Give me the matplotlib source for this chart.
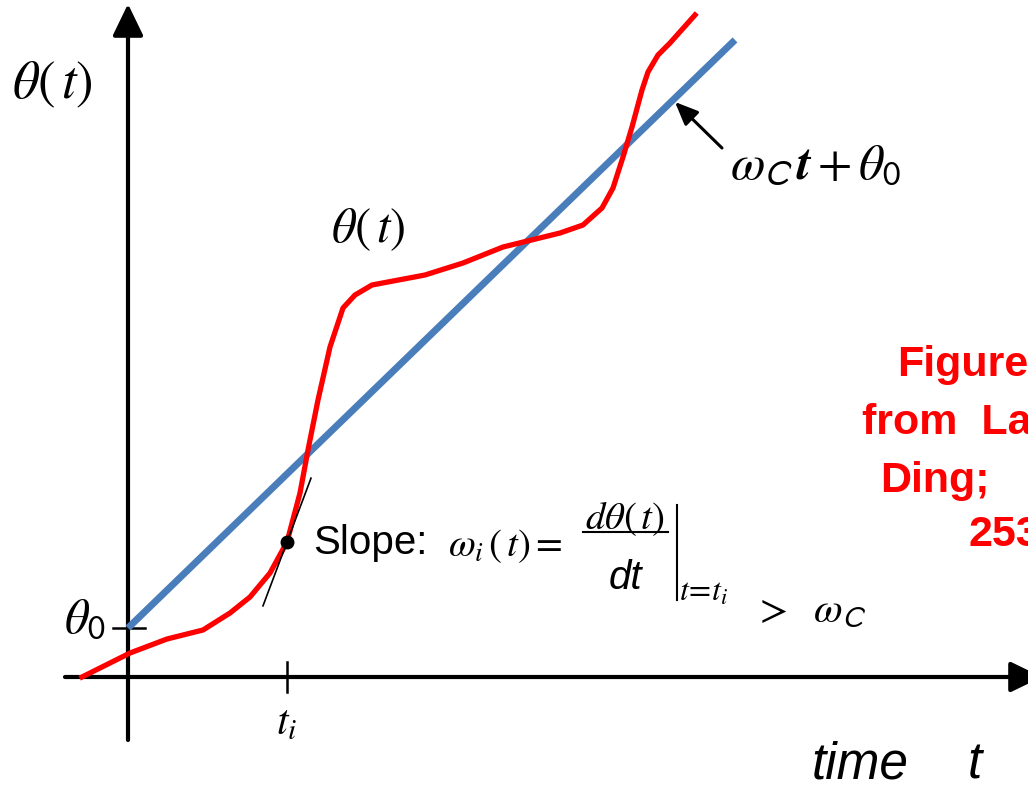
import matplotlib.pyplot as plt
import numpy as np

plt.rcParams['mathtext.fontset'] = 'stix'
plt.rcParams['font.family'] = ['Liberation Sans', 'DejaVu Sans']

# red curve theta(t) (origin at the axes crossing)
t_curve = [-46, 2, 39, 75, 102, 122, 142, 159, 172, 180, 190, 202, 215, 227, 244,
           297, 335, 375, 432, 455, 474, 485, 495, 504, 514, 520, 530, 542, 567]
theta_curve = [0, 24, 38, 47, 64, 80, 104, 135, 184, 227, 277, 330, 369, 382, 392,
               402, 414, 430, 444, 452, 469, 489, 520, 550, 587, 605, 622, 634, 662]

# straight line  omega_c * t + theta_0
theta0 = 49
omega_c = 590 / 609
t_line = [0, 607]

# point t_i and the tangent there
t_i = 159
theta_ti = 135
slope_ti = 2.66

fig = plt.figure(figsize=(10.28, 7.89), dpi=100)
ax = fig.add_axes([0, 0, 1, 1])
ax.set_xlim(-128, 900)
ax.set_ylim(-112, 677)
ax.axis('off')

axis_arrow = dict(arrowstyle='-|>,head_length=0.97,head_width=0.47', mutation_scale=20,
                  lw=3, color='black', shrinkA=0, shrinkB=0)
ax.annotate('', xy=(0, 673), xytext=(0, -63), arrowprops=axis_arrow, annotation_clip=False)
ax.annotate('', xy=(914, 0), xytext=(-63, 0), arrowprops=axis_arrow, annotation_clip=False)

# ticks for theta_0 and t_i
ax.plot([-15, 17], [theta0, theta0], color='black', lw=1.8)
ax.plot([t_i, t_i], [-15, 15], color='black', lw=1.8)

# curves
tl = np.array(t_line)
ax.plot(tl, omega_c * tl + theta0, color='#4a7ebb', lw=5, solid_capstyle='butt', zorder=3)
ax.plot(t_curve, theta_curve, color='red', lw=3.8, solid_joinstyle='round', zorder=4)

# tangent at t_i
dt = 24
ax.plot([t_i - dt, t_i + dt], [theta_ti - slope_ti * dt, theta_ti + slope_ti * dt],
        color='black', lw=1.2, zorder=5)
ax.plot(t_i, theta_ti, 'o', color='black', ms=9, zorder=6)

# arrow to the straight line
ax.annotate('', xy=(547, 575), xytext=(594, 529),
            arrowprops=dict(arrowstyle='-|>,head_length=0.7,head_width=0.3', mutation_scale=20,
                            lw=2.2, color='black', shrinkA=0, shrinkB=0))

# labels
ax.text(-76, 592, r'$\theta(\,t)$', fontsize=38, ha='center', va='center')
ax.text(240, 447, r'$\theta(\,t)$', fontsize=35, ha='center', va='center')
ax.text(602, 512, r'$\omega_{\mathsf{C}}\,\boldsymbol{t}+\theta_{\mathsf{0}}$', fontsize=36,
        ha='left', va='center')
ax.text(-22, 57, r'$\theta_{\mathsf{0}}$', fontsize=35, ha='right', va='center')
ax.text(t_i, -46, r'$t_i$', fontsize=30, ha='center', va='center')

# slope expression
ax.text(185, 134, 'Slope:', fontsize=29, ha='left', va='center')
ax.text(320, 131, r'$\omega_i\,(\,t) =$', fontsize=28, ha='left', va='center')
ax.text(497, 158, r'$d\theta(\,t)$', fontsize=28, ha='center', va='center')
ax.plot([455, 540], [145, 145], color='black', lw=1.5)
ax.text(497, 99, 'dt', fontsize=29, style='italic', ha='center', va='center')
ax.plot([549, 549], [172, 77], color='black', lw=1.5)
ax.text(551, 84, r'$t\!=\!t_i$', fontsize=23, ha='left', va='center')
ax.text(625, 66, r'$>\ \ \omega_{\mathsf{C}}$', fontsize=30, ha='left', va='center')

# red note, cut off at the right edge
red_lines = ['Figure', 'from  La', 'Ding;', '253']
red_pos = [(769, 312), (734, 254), (752, 196), (840, 142)]
for txt, (x, y) in zip(red_lines, red_pos):
    ax.text(x, y, txt, fontsize=31, fontweight='bold', color='red', ha='left', va='center')

ax.text(684, -88, 'time', fontsize=37, style='italic', ha='left', va='center')
ax.text(840, -88, 't', fontsize=37, style='italic', ha='left', va='center')

fig.savefig('out.png', dpi=100)
